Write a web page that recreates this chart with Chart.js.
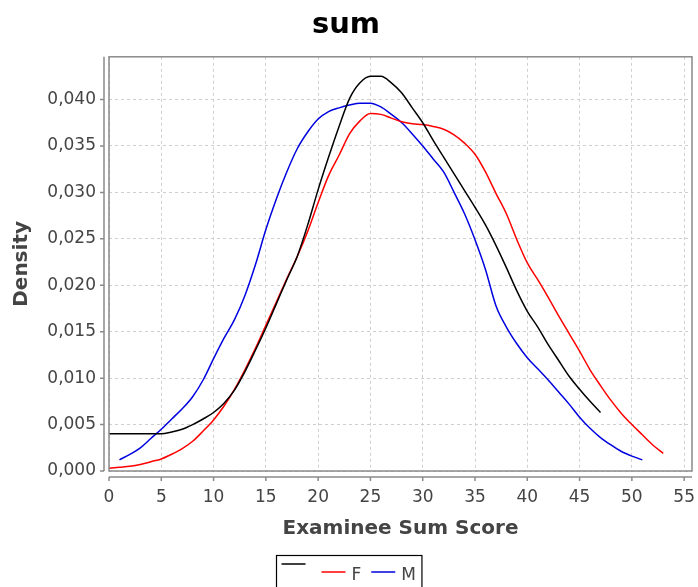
<!DOCTYPE html>
<html>
<head>
<meta charset="utf-8">
<script src="https://cdn.jsdelivr.net/npm/chart.js"></script>
<style>
  html, body { margin: 0; padding: 0; background: #fff; }
</style>
</head>
<body>
<canvas id="myChart" width="698" height="587"></canvas>
<script>
  // density curves
  const scoresAll = [0,1,2,3,4,5,6,7,8,9,10,11,12,13,14,15,16,17,18,19,20,21,22,23,24,25,26,27,28,29,30,31,32,33,34,35,36,37,38,39,40,41,42,43,44,45,46,47];
  const densityAll = [0.0040,0.0040,0.0040,0.0040,0.0040,0.0040,0.0042,0.0045,0.0050,0.0056,0.0063,0.0073,0.0087,0.0107,0.0130,0.0154,0.0180,0.0206,0.0231,0.0265,0.0303,0.0338,0.0371,0.0401,0.0418,0.0425,0.0425,0.0418,0.0407,0.0391,0.0375,0.0356,0.0338,0.0320,0.0302,0.0284,0.0265,0.0243,0.0219,0.0194,0.0172,0.0155,0.0136,0.0119,0.0102,0.0088,0.0075,0.0063];

  const scoresF = [0,1,2,3,4,5,6,7,8,9,10,11,12,13,14,15,16,17,18,19,20,21,22,23,24,25,26,27,28,29,30,31,32,33,34,35,36,37,38,39,40,41,42,43,44,45,46,47,48,49,50,51,52,53];
  const densityF = [0.0003,0.0004,0.0005,0.0007,0.0010,0.0013,0.0018,0.0024,0.0032,0.0043,0.0055,0.0070,0.0088,0.0109,0.0132,0.0157,0.0182,0.0207,0.0231,0.0258,0.0289,0.0318,0.0340,0.0363,0.0377,0.0385,0.0384,0.0380,0.0376,0.0374,0.0373,0.0371,0.0368,0.0362,0.0353,0.0341,0.0322,0.0299,0.0277,0.0249,0.0224,0.0206,0.0187,0.0167,0.0148,0.0129,0.0109,0.0092,0.0076,0.0062,0.0050,0.0039,0.0028,0.0019];

  const scoresM = [1,2,3,4,5,6,7,8,9,10,11,12,13,14,15,16,17,18,19,20,21,22,23,24,25,26,27,28,29,30,31,32,33,34,35,36,37,38,39,40,41,42,43,44,45,46,47,48,49,50,51];
  const densityM = [0.0012,0.0018,0.0025,0.0035,0.0045,0.0056,0.0067,0.0080,0.0098,0.0121,0.0143,0.0163,0.0189,0.0222,0.0260,0.0293,0.0322,0.0347,0.0365,0.0379,0.0387,0.0391,0.0394,0.0396,0.0396,0.0392,0.0384,0.0375,0.0363,0.0350,0.0336,0.0322,0.0300,0.0277,0.0249,0.0217,0.0178,0.0155,0.0137,0.0122,0.0110,0.0098,0.0085,0.0072,0.0058,0.0046,0.0036,0.0028,0.0021,0.0016,0.0012];

  const seriesNames = ['', 'F', 'M'];
  const seriesColors = ['#000000', '#ff0000', '#0000e0'];
  const xTicks = [0,5,10,15,20,25,30,35,40,45,50,55];
  const yTicks = [0,0.005,0.010,0.015,0.020,0.025,0.030,0.035,0.040];

  const FONT = 'DejaVu Sans';
  const pts = (xs, ys) => xs.map((v, i) => ({ x: v, y: ys[i] }));

  function curve(i, xs, ys) {
    return {
      label: seriesNames[i],
      data: pts(xs, ys),
      borderColor: seriesColors[i],
      backgroundColor: seriesColors[i],
      borderWidth: 1.5,
      pointRadius: 0,
      cubicInterpolationMode: 'monotone',
      fill: false
    };
  }

  // plot outline, offset axis lines, tick marks and the boxed legend
  const framePlugin = {
    id: 'frame',
    afterDraw(chart) {
      const { ctx, chartArea: a, scales: { x, y } } = chart;
      ctx.save();
      ctx.strokeStyle = '#8a8a8a';
      ctx.lineWidth = 1.5;
      ctx.strokeRect(a.left, a.top, a.right - a.left, a.bottom - a.top);
      ctx.beginPath();
      ctx.moveTo(a.left - 5, a.top);
      ctx.lineTo(a.left - 5, a.bottom);
      ctx.moveTo(a.left, a.bottom + 6);
      ctx.lineTo(a.right, a.bottom + 6);
      y.ticks.forEach(t => {
        const p = y.getPixelForValue(t.value);
        ctx.moveTo(a.left - 5, p); ctx.lineTo(a.left - 9, p);
      });
      x.ticks.forEach(t => {
        const p = x.getPixelForValue(t.value);
        ctx.moveTo(p, a.bottom + 6); ctx.lineTo(p, a.bottom + 10);
      });
      ctx.stroke();

      // legend
      const ds = chart.data.datasets;
      ctx.font = '17px "' + FONT + '"';
      let w = 5;
      ds.forEach(d => { w += 24 + 6 + (d.label ? ctx.measureText(d.label).width : 0) + 10; });
      w = w - 10 + 6;
      const left = Math.round(chart.width / 2 - w / 2) + 0.5;
      const top = 555.5;
      ctx.strokeStyle = '#000';
      ctx.lineWidth = 1.2;
      ctx.strokeRect(left, top, w, 60);
      let cx = left + 5;
      ds.forEach(d => {
        const ly = d.label ? top + 16.5 : top + 8.5;
        ctx.strokeStyle = d.borderColor;
        ctx.lineWidth = 1.5;
        ctx.beginPath();
        ctx.moveTo(cx, ly); ctx.lineTo(cx + 24, ly);
        ctx.stroke();
        cx += 30;
        if (d.label) {
          ctx.fillStyle = '#444';
          ctx.textBaseline = 'middle';
          ctx.fillText(d.label, cx, top + 20);
          cx += ctx.measureText(d.label).width;
        }
        cx += 10;
      });
      ctx.restore();
    }
  };

  const tickList = list => scale => { scale.ticks = list.map(v => ({ value: v })); };

  const myChart = new Chart(document.getElementById('myChart'), {
    type: 'line',
    data: {
      datasets: [
        curve(0, scoresAll, densityAll),
        curve(1, scoresF, densityF),
        curve(2, scoresM, densityM)
      ]
    },
    options: {
      responsive: false,
      animation: false,
      devicePixelRatio: 1,
      layout: { padding: { top: 0, left: 0, right: 6, bottom: 0 } },
      plugins: {
        legend: { display: false },
        tooltip: { enabled: false },
        title: {
          display: true,
          text: 'sum',
          color: '#000',
          font: { family: FONT, size: 29, weight: 'bold' },
          padding: { top: 8, bottom: 14 }
        }
      },
      scales: {
        x: {
          type: 'linear',
          min: 0,
          max: 55.75,
          afterBuildTicks: tickList(xTicks),
          afterFit: s => { s.height = 116; s.paddingLeft = 0; s.paddingRight = 0; },
          grid: { color: '#cfcfcf', lineWidth: 1, drawTicks: false },
          border: { display: false, dash: [3, 3] },
          ticks: {
            color: '#444',
            padding: 16,
            maxRotation: 0,
            autoSkip: false,
            font: { family: FONT, size: 17 }
          },
          title: {
            display: true,
            text: 'Examinee Sum Score',
            color: '#444',
            font: { family: FONT, size: 20, weight: 'bold' },
            padding: { top: 0, bottom: 46 }
          }
        },
        y: {
          type: 'linear',
          min: 0,
          max: 0.0446,
          afterBuildTicks: tickList(yTicks),
          afterFit: s => { s.width = 109; s.paddingTop = 0; s.paddingBottom = 0; },
          grid: { color: '#cfcfcf', lineWidth: 1, drawTicks: false },
          border: { display: false, dash: [3, 3] },
          ticks: {
            color: '#444',
            padding: 13,
            autoSkip: false,
            font: { family: FONT, size: 17 },
            callback: v => v.toFixed(3).replace('.', ',')
          },
          title: {
            display: true,
            text: 'Density',
            color: '#444',
            font: { family: FONT, size: 20, weight: 'bold' },
            padding: { top: 10, bottom: 0 }
          }
        }
      }
    },
    plugins: [framePlugin]
  });
</script>
</body>
</html>
